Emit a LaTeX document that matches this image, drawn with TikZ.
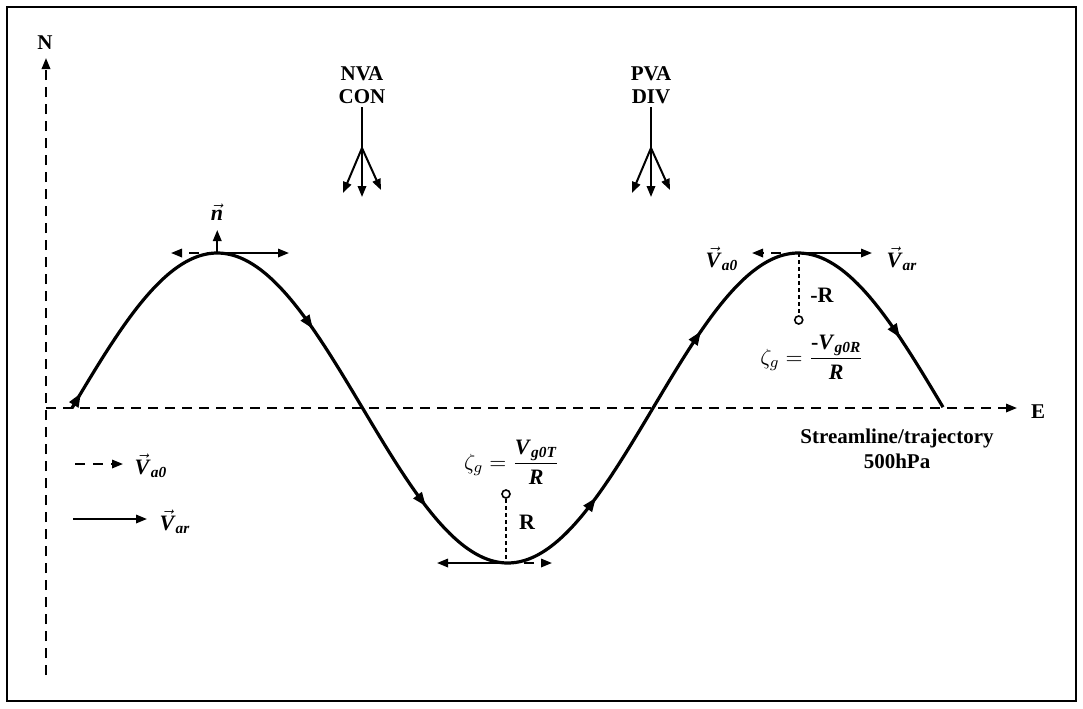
\documentclass[tikz,border=0pt]{standalone}
\usepackage{amsmath}
\usepackage{fontspec}
\setmainfont{Liberation Serif}
\usetikzlibrary{arrows.meta,positioning,calc}
\newcommand{\bv}[1]{\textbf{\textit{#1}}}
\newcommand{\vV}{\vec{\bv{V}}}

\begin{document}
\begin{tikzpicture}[x=0.5pt,y=-0.5pt,
  declare function={wave(\x)=408-155*sin(0.61962*(\x-72));},
  arr/.style={-{Triangle[length=5.5pt,width=4.2pt]}},
  axis/.style={line width=1pt,dash pattern=on 5pt off 3.5pt},
  curve/.style={line width=1.6pt},
  vel/.style={line width=1pt,arr},
  veldash/.style={vel,dash pattern=on 5pt off 4pt},
  radius/.style={line width=1pt,dash pattern=on 2pt off 1.5pt},
  lbl/.style={font=\fontsize{10.5}{11.5}\selectfont\bfseries,inner sep=1pt},
  sym/.style={font=\fontsize{11}{13}\selectfont,inner sep=1pt}]
  \useasboundingbox (0,0) rectangle (1083,708);
  \draw[line width=0.75pt] (7,7) rectangle (1076,701);
  % axes
  \draw[axis,arr] (46,675) -- (46,58) coordinate (ntip);
  \draw[axis,arr] (46,408) -- (1017,408) coordinate (etip);
  \node[lbl] (nlab) at (45,43) {N};
  \node[lbl] (elab) at (1038,412) {E};
  % streamline and the flow arrows on it
  \draw[curve] plot[domain=72:943,samples=160,smooth] (\x,{wave(\x)});
  \foreach \xa in {81,313,426,596,701,900}
    \draw[curve,-{Triangle[length=7pt,width=5pt]}] ({\xa-3},{wave(\xa-3)}) -- (\xa,{wave(\xa)});
  \coordinate (pk1) at (217.25,253);
  \coordinate (tr) at (506,563);
  \coordinate (pk2) at (798.75,253);
  % ridge on the left
  \draw[veldash] (pk1) -- (171,253);
  \draw[vel] (pk1) -- (289,253);
  \draw[vel] (pk1) -- (217.25,230);
  \node[sym] (nvec) at (217,212) {$\vec{\bv{n}}$};
  % trough
  \draw[vel] (tr) -- (437,563);
  \draw[veldash] (tr) -- (552,563);
  \node[draw,circle,line width=0.8pt,inner sep=0pt,minimum size=4pt] (ctr) at (506,494) {};
  \draw[radius] (ctr) -- (tr);
  \node[lbl,font=\fontsize{11}{13}\selectfont\bfseries] (rtr) at (527,522) {R};
  \node[sym] (zetatr) at (512,462) {$\zeta_g = \dfrac{\bv{V}_{\bv{g0T}}}{\bv{R}}$};
  % ridge on the right
  \draw[veldash] (pk2) -- (752,253);
  \draw[vel] (pk2) -- (872,253);
  \node[sym] (va0r) at (722,259) {$\vV_{\bv{a0}}$};
  \node[sym] (varr) at (902,259) {$\vV_{\bv{ar}}$};
  \node[draw,circle,line width=0.8pt,inner sep=0pt,minimum size=4pt] (cpk) at (798.75,320) {};
  \draw[radius] (pk2) -- (cpk);
  \node[lbl,font=\fontsize{11}{13}\selectfont\bfseries] (rpk) at (822,295) {-R};
  \node[sym] (zetapk) at (812,357) {$\zeta_g = \dfrac{\textbf{-}\bv{V}_{\bv{g0R}}}{\bv{R}}$};
  % divergence and convergence aloft
  \node[lbl,align=center] (nva) at (362,85) {NVA\\CON};
  \node[lbl,align=center] (pva) at (651,85) {PVA\\DIV};
  \coordinate (nvafork) at (362,148);
  \coordinate (pvafork) at (651,148);
  \draw[line width=1pt] (362,107) -- (nvafork);
  \draw[line width=1pt] (651,107) -- (pvafork);
  \foreach \f in {nvafork,pvafork}
    \foreach \dx/\dy in {-19/45,0/49,19/42}
      \draw[vel] (\f) -- ++(\dx,\dy);
  % legend
  \draw[veldash] (75,464) -- (123,464);
  \node[sym] (lega0) at (151,466) {$\vV_{\bv{a0}}$};
  \draw[vel] (73,519) -- (147,519);
  \node[sym] (legar) at (175,522) {$\vV_{\bv{ar}}$};
  \node[lbl,align=center,font=\fontsize{10.5}{12.5}\selectfont\bfseries] (stream) at (897,449) {Streamline/trajectory\\500hPa};
\end{tikzpicture}
\end{document}
